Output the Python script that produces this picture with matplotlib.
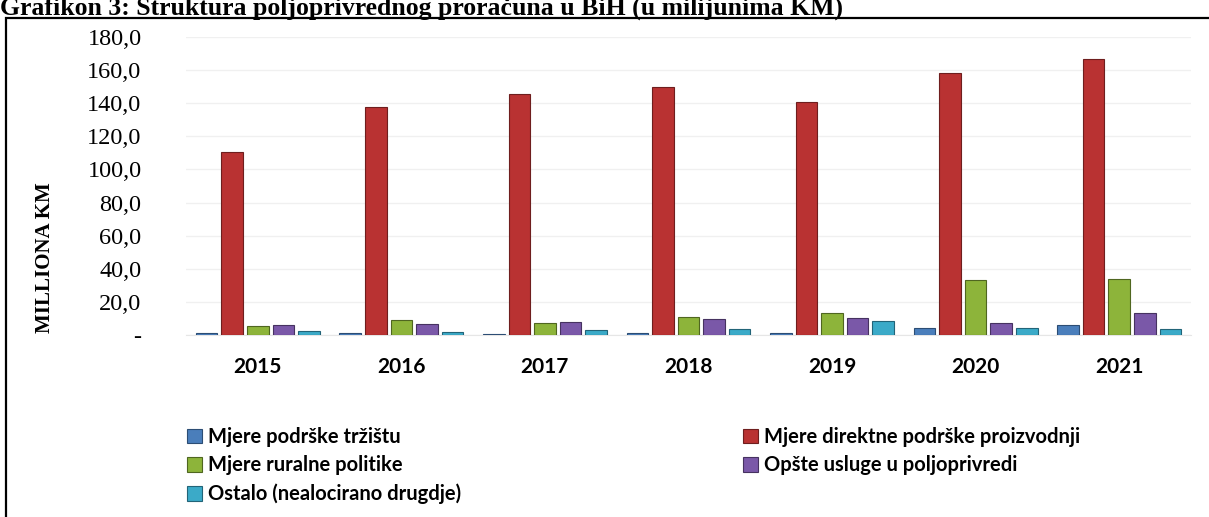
import numpy as np
import matplotlib.pyplot as plt
from matplotlib.patches import Rectangle

years = ["2015", "2016", "2017", "2018", "2019", "2020", "2021"]
series_names = ["Mjere podrške tržištu",
                "Mjere direktne podrške proizvodnji",
                "Mjere ruralne politike",
                "Opšte usluge u poljoprivredi",
                "Ostalo (nealocirano drugdje)"]
trziste = [1.5, 1.5, 0.9, 1.0, 1.0, 4.5, 5.8]
direktna = [110.5, 138.0, 145.5, 149.5, 141.0, 158.5, 167.0]
ruralna = [5.5, 9.0, 7.3, 11.0, 13.3, 33.0, 34.0]
usluge = [6.0, 6.8, 8.0, 9.8, 10.2, 7.2, 13.2]
ostalo = [2.5, 1.6, 3.0, 3.6, 8.2, 4.0, 3.5]
yticks = [0, 20, 40, 60, 80, 100, 120, 140, 160, 180]

colors = ["#4A7EBB", "#B93232", "#8DB43A", "#7A58A8", "#3BAAC8"]
edges = ["#2C4D74", "#6E1E1E", "#4F6620", "#463260", "#226478"]

fig = plt.figure(figsize=(12.09, 5.17), dpi=100)
W, H = 1209, 517
ax = fig.add_axes([186 / W, 1 - 335 / H, (1191 - 186) / W, (335 - 37) / H])

x = np.arange(len(years))
step = 0.178
width = 0.15
data = [trziste, direktna, ruralna, usluge, ostalo]
handles = []
for i, vals in enumerate(data):
    b = ax.bar(x + (i - 2) * step, vals, width, color=colors[i],
               edgecolor=edges[i], linewidth=0.8, label=series_names[i], zorder=3)
    handles.append(b)

ax.set_xlim(-0.5, len(years) - 0.5)
ax.set_ylim(0, 180)
ax.set_yticks(yticks)
ax.set_yticklabels(["-" if v == 0 else f"{v:.1f}".replace(".", ",") for v in yticks],
                   family="Liberation Serif", fontsize=17.5)
ax.set_xticks(x)
ax.set_xticklabels(years, family="Lato", fontweight="bold", fontsize=15)
ax.tick_params(axis="y", length=0, pad=32)
ax.tick_params(axis="x", length=0, pad=16)
ax.grid(axis="y", color="#F0F0F0", linewidth=1, zorder=0)
for s in ["top", "right", "left"]:
    ax.spines[s].set_visible(False)
ax.spines["bottom"].set_color("#E6E6E6")
ax.set_ylabel("MILLIONA KM", family="Liberation Serif", fontweight="bold", fontsize=15)
ax.yaxis.set_label_coords(-0.130, 0.26)

# legend in two blocks, placed separately like the original
legprops = {"family": "Lato", "weight": "bold", "size": 14.5}
left_idx = [0, 2, 4]
right_idx = [1, 3]
for idx, xpos in [(left_idx, 187), (right_idx, 743)]:
    fig.legend([handles[k] for k in idx], [series_names[k] for k in idx],
               loc="upper left", bbox_to_anchor=(xpos / W, 1 - 427 / H),
               frameon=False, prop=legprops,
               handlelength=0.75, handleheight=0.75, handletextpad=0.3,
               labelspacing=0.42, borderaxespad=0, borderpad=0)

fig.text(0, 1 - 15 / H, "Grafikon 3: Struktura poljoprivrednog proračuna u BiH (u milijunima KM)",
         family="Liberation Serif", fontweight="bold", fontsize=18.5, va="baseline", ha="left")

fig.patches.append(Rectangle((6 / W, -0.01), 1.0, 1 - 18 / H + 0.01, transform=fig.transFigure,
                             fill=False, edgecolor="black", linewidth=1.6))

fig.savefig("out.png", dpi=100)
